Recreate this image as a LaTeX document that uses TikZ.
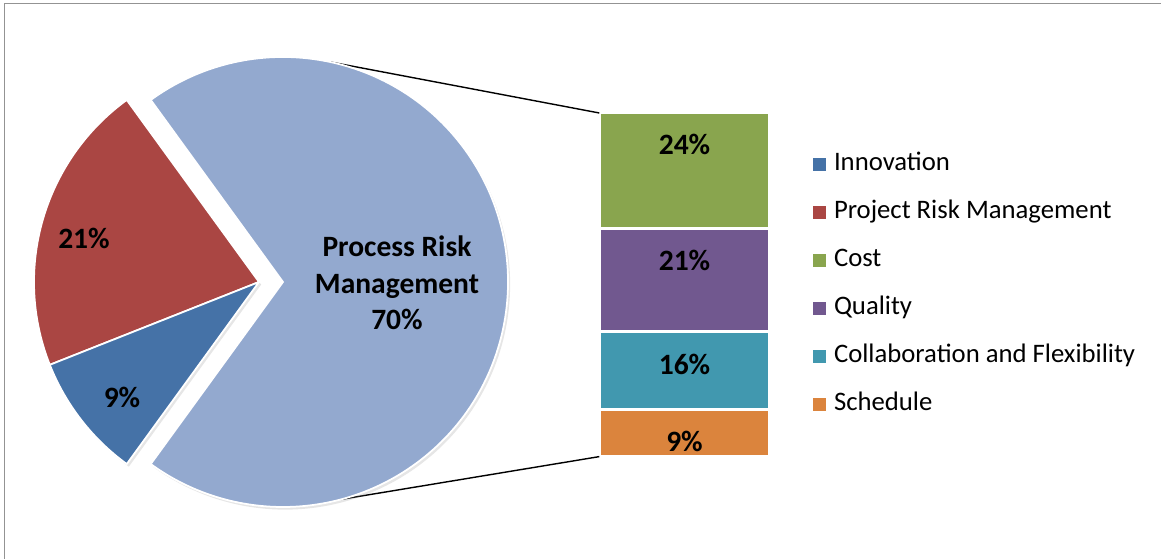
\documentclass[tikz,border=0pt]{standalone}
\usepackage{fontspec}
\setmainfont{Carlito}
\usetikzlibrary{positioning, calc, shadows}

\definecolor{innoblue}{HTML}{4572A7}
\definecolor{projred}{HTML}{AA4643}
\definecolor{procblue}{HTML}{93A9CF}
\definecolor{costgreen}{HTML}{89A54E}
\definecolor{qualpurple}{HTML}{71588F}
\definecolor{collteal}{HTML}{4198AF}
\definecolor{schedorange}{HTML}{DB843D}

\begin{document}
\begin{tikzpicture}[
        node distance=0.5cm,
        slice/.style={draw=white, line width=1pt, drop shadow={opacity=0.2, shadow xshift=1.2pt, shadow yshift=-1.5pt}},
        seg/.style={rectangle, draw=white, line width=0.8pt, minimum width=3.38cm, inner sep=0pt},
        pct/.style={font=\bfseries\fontsize{16.8}{20.7}\selectfont, inner sep=1pt},
        legtext/.style={font=\fontsize{15.2}{17}\selectfont, inner sep=0pt, outer sep=0pt, text height=1.7ex, text depth=0.5ex, minimum height=0.96cm},
        legbox/.style={rectangle, minimum size=0.26cm, inner sep=0pt}
    ]
    \useasboundingbox (0,0) rectangle (23.22,11.18);

    % Frame
    \draw[gray!85, line width=0.8pt] (0.09,0) -- (0.09,11.11) -- (23.22,11.11);

    % Pie centres
    \coordinate (C1) at (5.66,5.54);
    \coordinate (C2) at (5.18,5.54);
    \coordinate (A1) at ($(C1)+(78:4.5)$);
    \coordinate (A2) at ($(C1)+(-75:4.5)$);

    % Bar of pie
    \node (B1) [seg, fill=costgreen, minimum height=2.28cm, anchor=north] at (13.69,8.92) {};
    \node (B2) [seg, fill=qualpurple, minimum height=2.04cm, below=0pt of B1] {};
    \node (B3) [seg, fill=collteal, minimum height=1.52cm, below=0pt of B2] {};
    \node (B4) [seg, fill=schedorange, minimum height=0.92cm, below=0pt of B3] {};

    % Connectors
    \draw[line width=0.8pt] (A1) -- (B1.north west);
    \draw[line width=0.8pt] (A2) -- (B4.south west);

    % Pie slices
    \filldraw[slice, fill=procblue] (C1) -- ++(126:4.5) arc[start angle=126, end angle=-126, radius=4.5] -- cycle;
    \filldraw[slice, fill=projred] (C2) -- ++(126:4.5) arc[start angle=126, end angle=201.6, radius=4.5] -- cycle;
    \filldraw[slice, fill=innoblue] (C2) -- ++(201.6:4.5) arc[start angle=201.6, end angle=234, radius=4.5] -- cycle;

    % Slice labels
    \node (P1) [pct] at (1.68,6.42) {21\%};
    \node (P2) [pct] at (2.44,3.24) {9\%};
    \node (P3) [pct, align=center] at (7.94,5.52) {Process Risk\\Management\\70\%};

    % Bar labels
    \node (T1) [pct] at ([yshift=-0.62cm]B1.north) {24\%};
    \node (T2) [pct] at ([yshift=-0.64cm]B2.north) {21\%};
    \node (T3) [pct] at ([yshift=-0.66cm]B3.north) {16\%};
    \node (T4) [pct] at ([yshift=-0.64cm]B4.north) {9\%};

    % Legend
    \node (L1) [legtext, anchor=west] at (16.68,7.88) {Innovation};
    \node (L2) [legtext, below=0pt of L1.south west, anchor=north west] {Project Risk Management};
    \node (L3) [legtext, below=0pt of L2.south west, anchor=north west] {Cost};
    \node (L4) [legtext, below=0pt of L3.south west, anchor=north west] {Quality};
    \node (L5) [legtext, below=0pt of L4.south west, anchor=north west] {Collaboration and Flexibility};
    \node (L6) [legtext, below=0pt of L5.south west, anchor=north west] {Schedule};

    \node (S1) [legbox, fill=innoblue, left=0.16cm of L1] {};
    \node (S2) [legbox, fill=projred, left=0.16cm of L2] {};
    \node (S3) [legbox, fill=costgreen, left=0.16cm of L3] {};
    \node (S4) [legbox, fill=qualpurple, left=0.16cm of L4] {};
    \node (S5) [legbox, fill=collteal, left=0.16cm of L5] {};
    \node (S6) [legbox, fill=schedorange, left=0.16cm of L6] {};

\end{tikzpicture}
\end{document}
